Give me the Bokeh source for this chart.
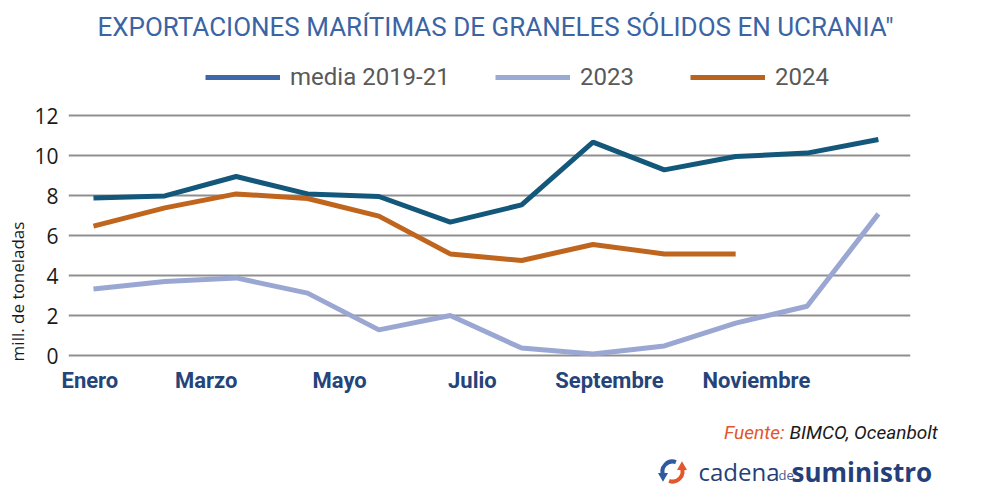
from bokeh.plotting import figure
from bokeh.layouts import column, row
from bokeh.models import Range1d, FixedTicker, Label, Legend, LegendItem
from bokeh.embed import file_html
from bokeh.resources import INLINE
import math

# ---- data ----
months = list(range(12))
media_2019_21 = [7.87, 7.98, 8.95, 8.08, 7.95, 6.67, 7.53, 10.67, 9.28, 9.95, 10.12, 10.80]
y2023 = [3.33, 3.70, 3.88, 3.12, 1.28, 2.00, 0.37, 0.08, 0.48, 1.62, 2.46, 7.08]
y2024 = [6.47, 7.38, 8.08, 7.85, 6.97, 5.08, 4.75, 5.55, 5.08, 5.08]
x_labels = ["Enero", "Marzo", "Mayo", "Julio", "Septembre", "Noviembre"]
x_label_pos = [-0.05, 1.58, 3.45, 5.31, 7.23, 9.29]
y_ticks = [0, 2, 4, 6, 8, 10, 12]
series_names = ["media 2019-21", "2023", "2024"]

line_colors = ["#13587b", "#9ba7d3", "#c0651e"]
legend_colors = ["#3f66a8", "#9ba9d5", "#b8631f"]
NAN = float("nan")


def blank(width, height):
    f = figure(width=width, height=height, output_backend="svg", toolbar_location=None,
               x_range=Range1d(0, width), y_range=Range1d(0, height),
               min_border=0, x_axis_location=None, y_axis_location=None)
    f.outline_line_color = None
    f.grid.visible = False
    f.background_fill_color = "white"
    f.border_fill_color = "white"
    return f


def label(f, x, y, text, **kw):
    f.add_layout(Label(x=x, y=y, x_units="screen", y_units="screen", text=text, **kw))


# ---- top: title + legend ----
top = blank(984, 100)
label(top, 495, 74, "EXPORTACIONES MARÍTIMAS DE GRANELES SÓLIDOS EN UCRANIA\"",
      text_align="center", text_baseline="middle", text_font="Roboto",
      text_font_size="26px", text_color="#3b64a5")
legend_x = [205, 495, 690]
for name, col, lx in zip(series_names, legend_colors, legend_x):
    r = top.line(x=[NAN], y=[NAN], line_color=col, line_width=5)
    lg = Legend(items=[LegendItem(label=name, renderers=[r])], location=(lx, 9),
                orientation="horizontal", border_line_color=None, background_fill_alpha=0,
                padding=0, margin=0, glyph_width=75, glyph_height=28, label_height=28,
                label_standoff=10, label_text_font="Roboto", label_text_font_size="24px",
                label_text_color="#595959")
    top.add_layout(lg, "center")

# ---- y-axis title (its frame is aligned with the chart frame) ----
ylab = blank(30, 300)
label(ylab, 17, 70, "mill. de toneladas", angle=math.pi / 2, text_align="center",
      text_baseline="middle", text_font="Open Sans", text_font_size="17px",
      text_color="#1a1a1a")

# ---- chart ----
p = figure(width=954, height=300, output_backend="svg", toolbar_location=None,
           x_range=Range1d(-0.35, 11.45), y_range=Range1d(-0.3, 12.5),
           min_border_left=38, min_border_right=74, min_border_top=5, min_border_bottom=39)
p.outline_line_color = None
p.background_fill_color = "white"
p.border_fill_color = "white"

p.xaxis.ticker = FixedTicker(ticks=x_label_pos)
p.xaxis.major_label_overrides = {pos: lab for pos, lab in zip(x_label_pos, x_labels)}
p.xaxis.axis_line_color = None
p.xaxis.major_tick_line_color = None
p.xaxis.minor_tick_line_color = None
p.xaxis.major_tick_out = 0
p.xaxis.major_label_standoff = 6
p.xaxis.major_label_text_font = "Roboto"
p.xaxis.major_label_text_font_style = "bold"
p.xaxis.major_label_text_font_size = "22px"
p.xaxis.major_label_text_color = "#24447a"

p.yaxis.ticker = FixedTicker(ticks=y_ticks)
p.yaxis.axis_line_color = None
p.yaxis.major_tick_line_color = None
p.yaxis.minor_tick_line_color = None
p.yaxis.major_tick_out = 0
p.yaxis.major_label_standoff = 10
p.yaxis.major_label_text_font = "Open Sans"
p.yaxis.major_label_text_font_size = "21px"
p.yaxis.major_label_text_color = "#1a1a1a"

p.xgrid.grid_line_color = None
p.ygrid.ticker = FixedTicker(ticks=y_ticks)
p.ygrid.grid_line_color = "#8f8f8f"
p.ygrid.grid_line_width = 2

p.line(months, media_2019_21, line_color=line_colors[0], line_width=5)
p.line(months, y2023, line_color=line_colors[1], line_width=5)
p.line(months[:len(y2024)], y2024, line_color=line_colors[2], line_width=5)

# ---- bottom: source + logo ----
bot = blank(984, 96)
label(bot, 784, 64, "Fuente:", text_align="right", text_baseline="middle", text_font="Roboto",
      text_font_style="italic", text_font_size="19px", text_color="#e3562b")
label(bot, 789, 64, "BIMCO, Oceanbolt", text_align="left", text_baseline="middle",
      text_font="Roboto", text_font_style="italic", text_font_size="19px", text_color="#1a1a1a")
# logo icon (two arrowed arcs)
bot.arc(x=[672], y=[25], radius=10, start_angle=math.radians(70), end_angle=math.radians(205),
        line_color="#2f5aa0", line_width=4)
bot.scatter(x=[662.5], y=[20.5], marker="triangle", size=10, angle=math.pi,
            fill_color="#2f5aa0", line_color=None)
bot.arc(x=[672], y=[25], radius=10, start_angle=math.radians(250), end_angle=math.radians(385),
        line_color="#e2582c", line_width=4)
bot.scatter(x=[681.5], y=[29.5], marker="triangle", size=10, angle=0,
            fill_color="#e2582c", line_color=None)
label(bot, 698, 25, "cadena", text_align="left", text_baseline="middle", text_font="Open Sans",
      text_font_size="24px", text_color="#243f7a")
label(bot, 778, 22, "de", text_align="left", text_baseline="middle", text_font="Open Sans",
      text_font_size="13px", text_color="#4a5f8f")
label(bot, 791, 25, "suministro", text_align="left", text_baseline="middle",
      text_font="Open Sans", text_font_style="bold", text_font_size="26px", text_color="#243f7a")

layout = column(top, row(ylab, p), bot)
open("out.html", "w").write(file_html(layout, INLINE))
